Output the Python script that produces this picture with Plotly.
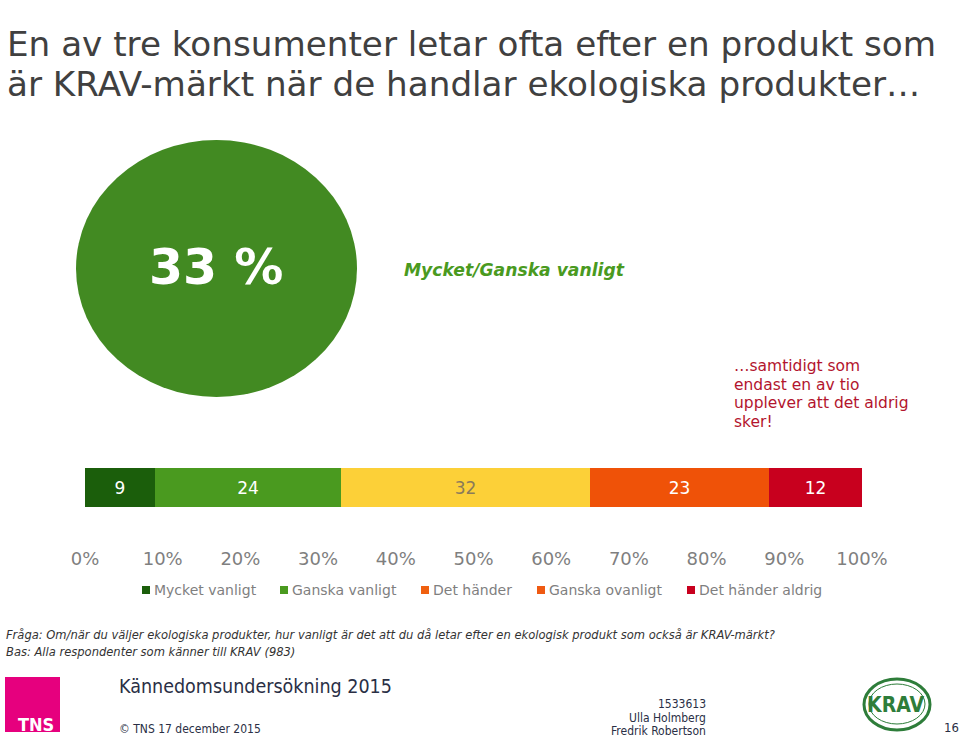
import plotly.graph_objects as go

# ---- data ----
categories = ["Mycket vanligt", "Ganska vanligt", "Det händer", "Ganska ovanligt", "Det händer aldrig"]
values = [9, 24, 32, 23, 12]
bar_colors = ["#1b5e0b", "#4a9a1f", "#fcd038", "#ef5208", "#c8001e"]
legend_colors = ["#1b5e0b", "#4a9a1f", "#f0600f", "#ef5a12", "#c8001e"]
label_colors = ["white", "white", "#8a7a5a", "white", "white"]
tick_vals = [0, 10, 20, 30, 40, 50, 60, 70, 80, 90, 100]
tick_text = ["0%", "10%", "20%", "30%", "40%", "50%", "60%", "70%", "80%", "90%", "100%"]
headline_value = "33 %"
headline_label = "Mycket/Ganska vanligt"

W, H = 960, 737
def px(x):
    return x / W
def py(y):
    return 1 - y / H

FONT = "DejaVu Sans"
COND = "DejaVu Sans Condensed, DejaVu Sans"

fig = go.Figure()
for cat, v, c, lc in zip(categories, values, bar_colors, label_colors):
    fig.add_trace(go.Bar(
        y=[0], x=[v], orientation="h", name=cat, width=1,
        marker=dict(color=c, line=dict(width=0)),
        text=[str(v)], textposition="inside", insidetextanchor="middle",
        textfont=dict(family=FONT, size=17, color=lc),
        showlegend=False, hoverinfo="x+name",
    ))

annotations = []
shapes = []

# title
annotations.append(dict(text="En av tre konsumenter letar ofta efter en produkt som",
                        x=px(5), y=py(44), xref="paper", yref="paper", xanchor="left", yanchor="middle",
                        showarrow=False, font=dict(family=FONT, size=34.2, color="#404040")))
annotations.append(dict(text="är KRAV-märkt när de handlar ekologiska produkter…",
                        x=px(5), y=py(84), xref="paper", yref="paper", xanchor="left", yanchor="middle",
                        showarrow=False, font=dict(family=FONT, size=34.2, color="#404040")))

# circle
shapes.append(dict(type="circle", xref="paper", yref="paper",
                   x0=px(76), x1=px(357), y0=py(397), y1=py(140),
                   fillcolor="#428a22", line=dict(width=0), layer="below"))
annotations.append(dict(text="<b>" + headline_value + "</b>", x=px(216), y=py(267), xref="paper", yref="paper",
                        xanchor="center", yanchor="middle", showarrow=False,
                        font=dict(family=FONT, size=49, color="white")))
annotations.append(dict(text="<b><i>" + headline_label + "</i></b>", x=px(402), y=py(270), xref="paper", yref="paper",
                        xanchor="left", yanchor="middle", showarrow=False,
                        font=dict(family=FONT, size=17.2, color="#4a9a1f")))

# red note
note = ["…samtidigt som", "endast en av tio", "upplever att det aldrig", "sker!"]
for i, line in enumerate(note):
    annotations.append(dict(text=line, x=px(732), y=py(366 + i * 18.7), xref="paper", yref="paper",
                            xanchor="left", yanchor="middle", showarrow=False,
                            font=dict(family=FONT, size=15.5, color="#b3152e")))

# manual legend
legend_x = [142, 280, 421, 537, 687]
for cat, c, lx in zip(categories, legend_colors, legend_x):
    shapes.append(dict(type="rect", xref="paper", yref="paper",
                       x0=px(lx), x1=px(lx + 8), y0=py(594), y1=py(586),
                       fillcolor=c, line=dict(width=0)))
    annotations.append(dict(text=cat, x=px(lx + 10), y=py(590), xref="paper", yref="paper",
                            xanchor="left", yanchor="middle", showarrow=False,
                            font=dict(family=FONT, size=14, color="#7f7f7f")))

# footnotes
annotations.append(dict(text="Fråga: Om/när du väljer ekologiska produkter, hur vanligt är det att du då letar efter en ekologisk produkt som också är KRAV-märkt?",
                        x=px(4), y=py(634), xref="paper", yref="paper", xanchor="left", yanchor="middle",
                        showarrow=False, font=dict(family=COND, size=12.8, color="#333333", style="italic")))
annotations.append(dict(text="Bas: Alla respondenter som känner till KRAV (983)",
                        x=px(4), y=py(651), xref="paper", yref="paper", xanchor="left", yanchor="middle",
                        showarrow=False, font=dict(family=COND, size=12.8, color="#333333", style="italic")))

# TNS logo
shapes.append(dict(type="rect", xref="paper", yref="paper", x0=px(5), x1=px(60), y0=py(732), y1=py(677),
                   fillcolor="#e6007e", line=dict(width=0)))
annotations.append(dict(text="<b>TNS</b>", x=px(36), y=py(724), xref="paper", yref="paper",
                        xanchor="center", yanchor="middle", showarrow=False,
                        font=dict(family=COND, size=18, color="white")))

annotations.append(dict(text="Kännedomsundersökning 2015", x=px(117), y=py(686), xref="paper", yref="paper",
                        xanchor="left", yanchor="middle", showarrow=False,
                        font=dict(family=COND, size=19.5, color="#2a2f45")))
annotations.append(dict(text="© TNS 17 december 2015", x=px(117), y=py(729), xref="paper", yref="paper",
                        xanchor="left", yanchor="middle", showarrow=False,
                        font=dict(family=COND, size=12, color="#2a2f45")))
for i, line in enumerate(["1533613", "Ulla Holmberg", "Fredrik Robertson"]):
    annotations.append(dict(text=line, x=px(708), y=py(704 + i * 13.5), xref="paper", yref="paper",
                            xanchor="right", yanchor="middle", showarrow=False,
                            font=dict(family=COND, size=12, color="#2a2f45")))

# KRAV logo
shapes.append(dict(type="circle", xref="paper", yref="paper", x0=px(864), x1=px(930), y0=py(730), y1=py(679),
                   fillcolor="rgba(0,0,0,0)", line=dict(color="#2e7d3a", width=3)))
shapes.append(dict(type="circle", xref="paper", yref="paper", x0=px(869), x1=px(925), y0=py(724), y1=py(684),
                   fillcolor="rgba(0,0,0,0)", line=dict(color="#2e7d3a", width=1)))
annotations.append(dict(text="<b>KRAV</b>", x=px(895), y=py(705), xref="paper", yref="paper",
                        xanchor="center", yanchor="middle", showarrow=False,
                        font=dict(family=COND, size=21, color="#2e7d3a")))
annotations.append(dict(text="16", x=px(951), y=py(727), xref="paper", yref="paper",
                        xanchor="center", yanchor="middle", showarrow=False,
                        font=dict(family=COND, size=13, color="#2a2f45")))

fig.update_layout(
    width=W, height=H, margin=dict(l=0, r=0, t=0, b=0, pad=0, autoexpand=False),
    paper_bgcolor="white", plot_bgcolor="white",
    barmode="stack", bargap=0,
    xaxis=dict(domain=[px(85), px(862)], range=[0, 100], tickvals=tick_vals, ticktext=tick_text,
               anchor="free", position=py(546), showgrid=False, zeroline=False, showline=False,
               automargin=False,
               ticks="", tickfont=dict(family=FONT, size=18, color="#7f7f7f"), fixedrange=True),
    yaxis=dict(domain=[py(507), py(468)], range=[-0.5, 0.5], visible=False, fixedrange=True,
               automargin=False),
    annotations=annotations, shapes=shapes, showlegend=False,
)

fig.write_html("out.html", config={"displayModeBar": False},
               post_script="document.body.style.margin='0';")
